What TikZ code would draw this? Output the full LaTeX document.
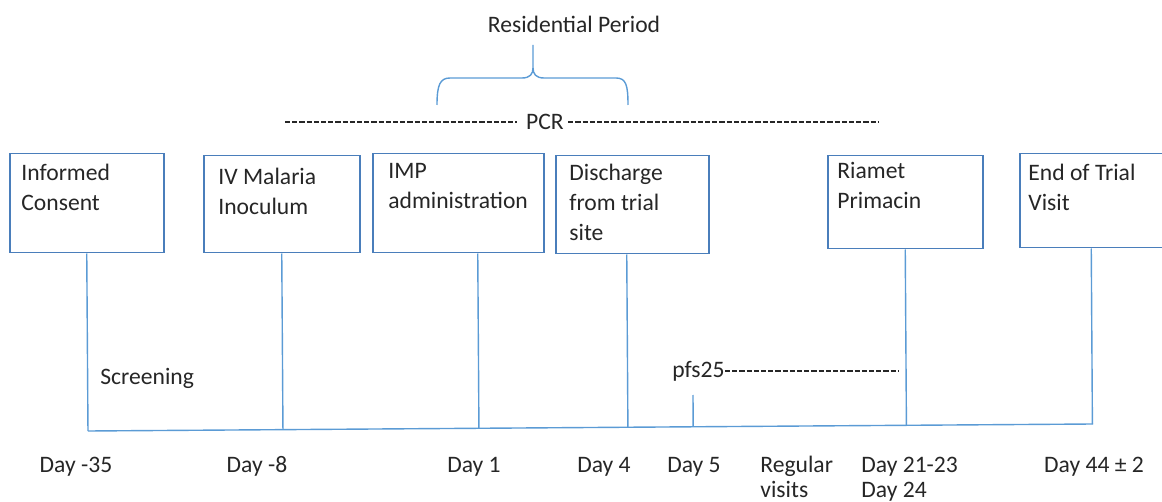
\documentclass[tikz,border=0pt]{standalone}
\usepackage{fontspec}
\setmainfont{Carlito}
\usepackage{xcolor}
\usepackage{tikz}
\usetikzlibrary{positioning, calc}

\definecolor{boxblue}{RGB}{74,126,187}
\definecolor{linkblue}{RGB}{91,155,213}
\definecolor{ink}{RGB}{38,38,38}

\tikzset{
  visit/.style={draw=boxblue, line width=0.75pt, anchor=north west, inner sep=0pt},
  inbox/.style={anchor=north west, inner sep=0pt, align=left, text=ink},
  link/.style={draw=linkblue, line width=0.7pt},
  hyph/.style={draw=ink, line width=0.55pt, dash pattern=on 2.6pt off 1pt},
  day/.style={anchor=base, inner sep=0pt, text=ink}
}

\begin{document}
\begin{tikzpicture}[x=0.5pt, y=-0.5pt, font=\fontsize{11.8}{15}\selectfont]
    \useasboundingbox (0,0) rectangle (1162,502);

    % Riquadri
    \node[visit, minimum width=77pt, minimum height=49.5pt] (consent) at (9,153) {};
    \node[visit, minimum width=78pt, minimum height=48.5pt] (inoc) at (203,155) {};
    \node[visit, minimum width=85.5pt, minimum height=49.5pt] (imp) at (372,153) {};
    \node[visit, minimum width=76.5pt, minimum height=49pt] (disch) at (555,155) {};
    \node[visit, minimum width=77.5pt, minimum height=46.5pt] (drug) at (827,155) {};
    \node[visit, minimum width=71.5pt, minimum height=47pt] (eot) at (1019,153) {};

    \node[inbox, below right=5.25pt and 6pt of consent.north west] (consentT) {Informed\\Consent};
    \node[inbox, below right=6.25pt and 7.5pt of inoc.north west] (inocT) {IV Malaria\\Inoculum};
    \node[inbox, below right=4.9pt and 8pt of imp.north west] (impT) {IMP\\administration};
    \node[inbox, below right=4.25pt and 7pt of disch.north west] (dischT) {Discharge\\from trial\\site};
    \node[inbox, below right=3.4pt and 5pt of drug.north west] (drugT) {Riamet\\Primacin};
    \node[inbox, below right=5.25pt and 4.5pt of eot.north west] (eotT) {End of Trial\\Visit};

    % Asse dei tempi
    \coordinate (axL) at (88,431);
    \coordinate (axR) at (1093,424);
    \draw[link] (axL) -- (axR);
    \draw[link] (consent.south) -- ($(axL)!(consent.south)!(axR)$);
    \draw[link] (inoc.south) -- ($(axL)!(inoc.south)!(axR)$);
    \draw[link] ([xshift=9.75pt]imp.south) -- ($(axL)!([xshift=9.75pt]imp.south)!(axR)$);
    \draw[link] ([xshift=-2.75pt]disch.south) -- ($(axL)!([xshift=-2.75pt]disch.south)!(axR)$);
    \draw[link] (drug.south) -- ($(axL)!(drug.south)!(axR)$);
    \draw[link] (eot.south) -- ($(axL)!(eot.south)!(axR)$);
    \coordinate (tick) at (693,395);
    \draw[link] (tick) -- ($(axL)!(tick)!(axR)$);

    % Periodo residenziale e PCR
    \node[day] (res) at (574,33) {Residential Period};
    \draw[link] (437,105) .. controls (437,85) and (440,78) .. (450,78) -- (522,78)
        .. controls (530,78) and (533,74) .. (533,68) -- (533,45);
    \draw[link] (533,68) .. controls (533,74) and (536,78) .. (544,78) -- (616,78)
        .. controls (626,78) and (628,85) .. (628,105);
    \node[text=ink, inner sep=0pt] (pcr) at (545,122) {PCR};
    \coordinate (pcrL) at (285,122);
    \coordinate (pcrR) at (878,122);
    \draw[hyph] (pcrL) -- ([xshift=-4.5pt]pcr.west);
    \draw[hyph] ([xshift=2pt]pcr.east) -- (pcrR);

    \node[day, anchor=base west] (scr) at (100,385) {Screening};
    \node[day, anchor=base west] (pfs) at (672,378) {pfs25};
    \coordinate (pfsEnd) at (899,371);
    \draw[hyph] ([yshift=3.5pt]pfs.base east) -- (pfsEnd);

    % Giorni
    \node[day] (d35) at (76,472) {Day -35};
    \node[day] (d8) at (257,472) {Day -8};
    \node[day] (d1) at (474,472) {Day 1};
    \node[day] (d4) at (604,472) {Day 4};
    \node[day] (d5) at (694,472) {Day 5};
    \node[inbox, font=\fontsize{11.8}{12.5}\selectfont] (reg) at (760,455.6) {Regular\\visits};
    \node[inbox, font=\fontsize{11.8}{12.5}\selectfont] (d21) at (861,456.8) {Day 21-23\\Day 24};
    \node[day] (d44) at (1094,472) {Day 44 ± 2};
\end{tikzpicture}
\end{document}
